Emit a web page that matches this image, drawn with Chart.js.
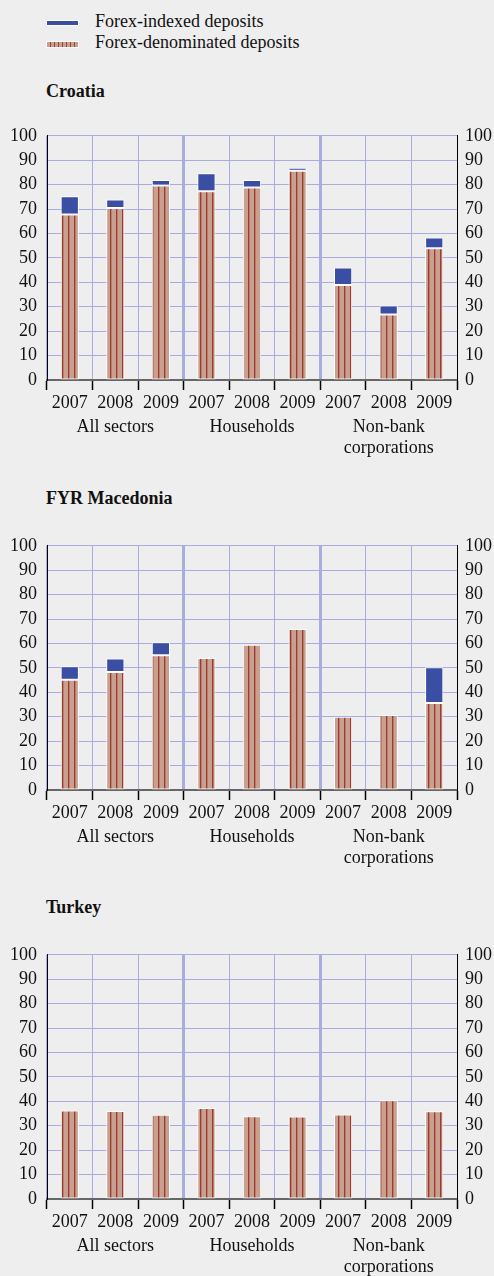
<!DOCTYPE html>
<html lang="en">
<head>
<meta charset="UTF-8">
<title>Forex deposits</title>
<script src="https://cdn.jsdelivr.net/npm/chart.js"></script>
<style>
  body {
    margin: 0;
    background: #eeeeee;
    font-family: "Liberation Serif", "Times New Roman", serif;
    color: #111;
    width: 494px;
    height: 1276px;
    overflow: hidden;
    position: relative;
  }
  .swatch {
    position: absolute;
    left: 46px;
    width: 31px;
    border: 1px solid #fff;
  }
  .legend-text {
    position: absolute;
    left: 95px;
    font-size: 18px;
    line-height: 20px;
    white-space: nowrap;
  }
  .title {
    position: absolute;
    left: 46px;
    font-weight: bold;
    font-size: 18px;
    line-height: 20px;
  }
  canvas { position: absolute; left: 0; }
</style>
</head>
<body>
  <div class="swatch" style="top:20px;height:4px;background:#3a4ea4"></div>
  <div class="legend-text" style="top:11px">Forex-indexed deposits</div>
  <div class="swatch" style="top:41px;height:5px;background:repeating-linear-gradient(90deg,#c9a08f 0 3px,#9e4034 3px 4px)"></div>
  <div class="legend-text" style="top:32px">Forex-denominated deposits</div>

  <div class="title" style="top:81px">Croatia</div>
  <canvas id="croatia" width="494" height="361" style="top:115px"></canvas>

  <div class="title" style="top:488px">FYR Macedonia</div>
  <canvas id="macedonia" width="494" height="361" style="top:525px"></canvas>

  <div class="title" style="top:897px">Turkey</div>
  <canvas id="turkey" width="494" height="361" style="top:934px"></canvas>

<script>
// categories
const years = ['2007', '2008', '2009', '2007', '2008', '2009', '2007', '2008', '2009'];
const sectors = ['All sectors', 'Households', ['Non-bank', 'corporations']];

// % of deposits
const croatiaDenominated = [67.8, 70.4, 79.6, 77.3, 78.8, 85.7, 38.9, 26.8, 54.0];
const croatiaIndexed = [7.4, 3.5, 2.3, 7.4, 3.1, 1.2, 7.2, 3.7, 4.4];

const macedoniaDenominated = [45.1, 48.3, 55.2, 54.1, 59.5, 65.9, 30.0, 30.7, 35.6];
const macedoniaIndexed = [5.6, 5.6, 5.3, 0, 0, 0, 0, 0, 14.7];

const turkeyDenominated = [36.2, 36.0, 34.5, 37.3, 33.9, 33.8, 34.6, 40.4, 35.9];
const turkeyIndexed = [0, 0, 0, 0, 0, 0, 0, 0, 0];

Chart.defaults.font.family = '"Liberation Serif", "Times New Roman", serif';
Chart.defaults.font.size = 18;
Chart.defaults.color = '#111';

function stripes() {
    let c = document.createElement('canvas');
    c.width = 6;
    c.height = 6;
    let g = c.getContext('2d');
    g.fillStyle = '#c9a08f';
    g.fillRect(0, 0, 6, 6);
    g.fillStyle = '#9a3b30';
    g.fillRect(2, 0, 1, 6);
    g.fillStyle = 'rgba(154,59,48,0.35)';
    g.fillRect(3, 0, 1, 6);
    return g.createPattern(c, 'repeat');
}

const gridBlue = '#a8acdf';

function drawPanel(id, denominated, indexed) {
    let ctx = document.getElementById(id).getContext('2d');
    let barStyle = {
        borderColor: '#ffffff',
        borderWidth: c => (c.raw ? 1 : 0),
        borderSkipped: false,
        barPercentage: 0.4,
        categoryPercentage: 1
    };
    new Chart(ctx, {
        type: 'bar',
        data: {
            labels: years,
            datasets: [
                Object.assign({ label: 'Forex-denominated deposits', data: denominated, backgroundColor: stripes() }, barStyle),
                Object.assign({ label: 'Forex-indexed deposits', data: indexed, backgroundColor: '#3a4ea4' }, barStyle)
            ]
        },
        options: {
            responsive: false,
            animation: false,
            layout: { padding: { top: 15, left: 0, right: 0, bottom: 0 } },
            plugins: { legend: { display: false }, tooltip: { enabled: false } },
            scales: {
                x: {
                    type: 'category',
                    stacked: true,
                    offset: true,
                    weight: 0,
                    grid: {
                        offset: true,
                        color: gridBlue,
                        lineWidth: c => (c.index === 3 || c.index === 6 ? 3 : 1),
                        tickLength: 10,
                        tickColor: '#000',
                        tickWidth: 1.5
                    },
                    border: { color: '#666', width: 2 },
                    ticks: { autoSkip: false, maxRotation: 0, padding: 2 },
                    afterFit: s => { s.height = 35; }
                },
                x2: {
                    type: 'category',
                    labels: sectors,
                    position: 'bottom',
                    offset: true,
                    weight: 1,
                    grid: { display: false, drawTicks: false },
                    border: { display: false },
                    ticks: { autoSkip: false, maxRotation: 0, padding: 1 },
                    afterFit: s => { s.height = 61; }
                },
                y: {
                    stacked: true,
                    min: 0,
                    max: 100,
                    ticks: { stepSize: 10, padding: 10, autoSkip: false },
                    grid: { color: gridBlue, drawTicks: false },
                    border: { color: '#000', width: 1 },
                    afterFit: s => { s.width = 47; }
                },
                y2: {
                    position: 'right',
                    min: 0,
                    max: 100,
                    ticks: { stepSize: 10, padding: 8, autoSkip: false },
                    grid: { drawOnChartArea: false, drawTicks: false },
                    border: { color: '#000', width: 1 },
                    afterFit: s => { s.width = 37; }
                }
            }
        }
    });
}

drawPanel('croatia', croatiaDenominated, croatiaIndexed);
drawPanel('macedonia', macedoniaDenominated, macedoniaIndexed);
drawPanel('turkey', turkeyDenominated, turkeyIndexed);
</script>
</body>
</html>
